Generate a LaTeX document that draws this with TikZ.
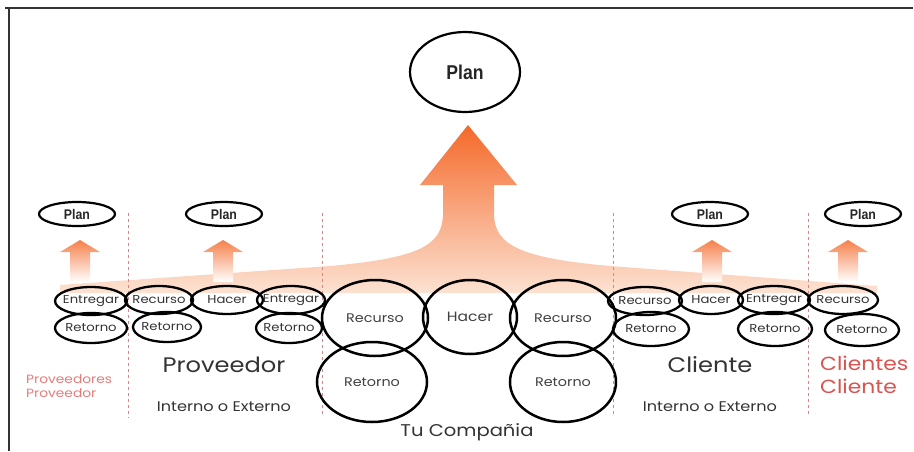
\documentclass[tikz,border=0pt]{standalone}
\usepackage{fontspec}
\setmainfont[FakeStretch=1.15]{Poppins}
\newfontfamily\planfont[FakeStretch=0.88]{Liberation Sans}
\usetikzlibrary{shapes.geometric}
\definecolor{orangeA}{HTML}{F4692A}
\definecolor{orangeB}{HTML}{FCE2D2}
\definecolor{redtxt}{HTML}{D9534F}
\definecolor{pinktxt}{HTML}{E47B7B}
\definecolor{dashc}{HTML}{D98585}
\definecolor{framec}{HTML}{333333}
\tikzset{
  ell/.style={ellipse, draw=black, line width=2.3pt, inner sep=0pt},
  bigell/.style={ellipse, draw=black, line width=2.5pt, inner sep=0pt},
  lbl/.style={inner sep=0pt, font=\fontsize{11.5}{13}\selectfont, text=black!80},
  biglbl/.style={inner sep=0pt, font=\fontsize{12.5}{14}\selectfont, text=black!75},
  planell/.style={ellipse, draw=black, line width=2.2pt, inner sep=0pt, font=\planfont\bfseries\fontsize{14}{15}\selectfont, text=black!85},
  divider/.style={draw=dashc, line width=1pt, dash pattern=on 3pt off 3pt},
  bigtxt/.style={font=\fontsize{21}{23}\selectfont, text=black!80},
  midtxt/.style={font=\fontsize{14}{16}\selectfont, text=black!80},
  smallarrow/.style={top color=orangeA!85, bottom color=white, draw=none},
}
\begin{document}
\begin{tikzpicture}[x=1pt,y=-1pt]
\useasboundingbox (0,0) rectangle (914,451);
% frame
\draw[framec, line width=2.5pt] (5,8) -- (913,8);
\draw[framec, line width=2.5pt] (9,8) -- (9,451);
% big shaded arrow + band
\shade[top color=orangeA, bottom color=orangeB]
  (60,285) -- (330,266) .. controls (420,258) and (442,245) .. (443,215)
  -- (443,185) -- (420,185) -- (468,125) -- (517,185) -- (494,185) -- (494,215)
  .. controls (495,245) and (520,258) .. (610,266) -- (877,286) -- (877,293) -- (60,293) -- cycle;
% small arrows
\foreach \x in {80,223,712,848}{
  \shade[smallarrow] (\x-10,282) -- (\x-10,252) -- (\x-20,252) -- (\x,240) -- (\x+20,252) -- (\x+10,252) -- (\x+10,282) -- cycle;
}
% dividers
\coordinate (d1a) at (128,213); \coordinate (d1b) at (128,418);
\coordinate (d2a) at (322,213); \coordinate (d2b) at (322,416);
\coordinate (d3a) at (613,213); \coordinate (d3b) at (613,416);
\coordinate (d4a) at (808,213); \coordinate (d4b) at (808,416);
\draw[divider] (d1a) -- (d1b);
\draw[divider] (d2a) -- (d2b);
\draw[divider] (d3a) -- (d3b);
\draw[divider] (d4a) -- (d4b);
% plans
\node[planell, minimum width=110pt, minimum height=80pt, font=\planfont\bfseries\fontsize{20}{22}\selectfont] (planC) at (465,72) {Plan};
\node[planell, minimum width=76pt, minimum height=24pt] (planL1) at (77,214) {Plan};
\node[planell, minimum width=76pt, minimum height=24pt] (planL2) at (224,214) {Plan};
\node[planell, minimum width=76pt, minimum height=24pt] (planR1) at (710,214) {Plan};
\node[planell, minimum width=76pt, minimum height=24pt] (planR2) at (863,214) {Plan};
% left group
\node[ell, minimum width=72pt, minimum height=28pt, label={[lbl]center:Entregar}] (entL1) at (91,301) {};
\node[ell, minimum width=72pt, minimum height=30pt, label={[lbl]center:Retorno}] (retL1) at (91,328) {};
\node[ell, minimum width=68pt, minimum height=28pt, label={[lbl]center:Recurso}] (recL2) at (159,300) {};
\node[ell, minimum width=68pt, minimum height=30pt, label={[lbl]center:Retorno}] (retL2) at (167,327) {};
\node[ell, minimum width=72pt, minimum height=28pt, label={[lbl]center:Hacer}] (hacL2) at (227,300) {};
\node[ell, minimum width=68pt, minimum height=28pt, label={[lbl]center:Entregar}] (entL2) at (291,300) {};
\node[ell, minimum width=66pt, minimum height=30pt, label={[lbl]center:Retorno}] (retL3) at (289,328) {};
% center group
\node[bigell, minimum width=106pt, minimum height=76pt, label={[biglbl]center:Recurso}] (recC1) at (375,318) {};
\node[bigell, minimum width=94pt, minimum height=74pt, label={[biglbl, font=\fontsize{13.5}{15}\selectfont]center:Hacer}] (hacC) at (470,317) {};
\node[bigell, minimum width=106pt, minimum height=76pt, label={[biglbl]center:Recurso}] (recC2) at (563,318) {};
\node[bigell, minimum width=110pt, minimum height=80pt, label={[biglbl]center:Retorno}] (retC1) at (372,382) {};
\node[bigell, minimum width=106pt, minimum height=80pt, label={[biglbl]center:Retorno}] (retC2) at (563,382) {};
% right group
\node[ell, minimum width=74pt, minimum height=28pt, label={[lbl]center:Recurso}] (recR1) at (645,301) {};
\node[ell, minimum width=76pt, minimum height=34pt, label={[lbl]center:Retorno}] (retR1) at (651,329) {};
\node[ell, minimum width=64pt, minimum height=28pt, label={[lbl]center:Hacer}] (hacR1) at (711,300) {};
\node[ell, minimum width=72pt, minimum height=28pt, label={[lbl]center:Entregar}] (entR1) at (774,300) {};
\node[ell, minimum width=74pt, minimum height=34pt, label={[lbl]center:Retorno}] (retR2) at (775,329) {};
\node[ell, minimum width=70pt, minimum height=28pt, label={[lbl]center:Recurso}] (recR2) at (843,300) {};
\node[ell, minimum width=74pt, minimum height=32pt, label={[lbl]center:Retorno}] (retR3) at (862,330) {};
% labels
\node[font=\fontsize{12}{14}\selectfont, text=pinktxt, align=left, anchor=west, inner sep=0pt] (provs) at (26,386) {Proveedores\\Proveedor};
\node[bigtxt] (prov) at (224,365) {Proveedor};
\node[midtxt] (intL) at (224,407) {Interno o Externo};
\node[bigtxt] (cli) at (710,365) {Cliente};
\node[midtxt] (intR) at (710,407) {Interno o Externo};
\node[font=\fontsize{19}{23}\selectfont, text=redtxt, align=left, anchor=west, inner sep=0pt] (clis) at (820,375) {Clientes\\Cliente};
\node[font=\fontsize{17}{19}\selectfont, text=black!80] (tu) at (467,432) {Tu Compañia};
\end{tikzpicture}
\end{document}
